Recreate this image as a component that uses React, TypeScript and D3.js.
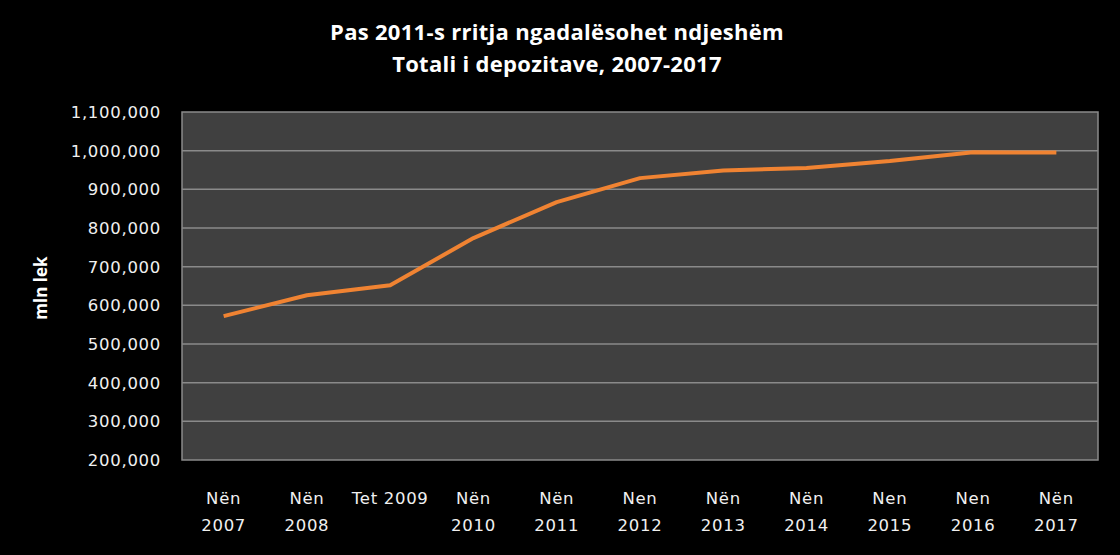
import { useEffect, useRef } from 'react';
import * as d3 from 'd3';

const categories = [
  'Nën 2007', 'Nën 2008', 'Tet 2009', 'Nën 2010', 'Nën 2011', 'Nen 2012',
  'Nën 2013', 'Nën 2014', 'Nen 2015', 'Nen 2016', 'Nën 2017',
];
// two-line tick labels as printed under the axis
const tickLines = [
  ['Nën', '2007'], ['Nën', '2008'], ['Tet 2009'], ['Nën', '2010'], ['Nën', '2011'],
  ['Nen', '2012'], ['Nën', '2013'], ['Nën', '2014'], ['Nen', '2015'], ['Nen', '2016'], ['Nën', '2017'],
];
const deposits = [572000, 626000, 652000, 774000, 867000, 929000, 949000, 955000, 973000, 996000, 995000];
const yTicks = [200000, 300000, 400000, 500000, 600000, 700000, 800000, 900000, 1000000, 1100000];

const titleLines = ['Pas 2011-s rritja ngadalësohet ndjeshëm', 'Totali i depozitave, 2007-2017'];

export default function App() {
  const svgRef = useRef<SVGSVGElement>(null);

  useEffect(() => {
    if (!svgRef.current) {
      return;
    }
    const width = 1120;
    const height = 555;
    const left = 182;
    const right = 1098;
    const top = 112;
    const bottom = 460;

    const svg = d3.select(svgRef.current);
    svg.selectAll('*').remove();
    svg.attr('width', width).attr('height', height);

    svg.append('rect').attr('width', width).attr('height', height).attr('fill', '#000');

    const x = d3.scaleBand<string>().domain(categories).range([left, right]);
    const y = d3.scaleLinear().domain([200000, 1100000]).range([bottom, top]);

    svg
      .append('rect')
      .attr('x', left)
      .attr('y', top)
      .attr('width', right - left)
      .attr('height', bottom - top)
      .attr('fill', '#404040')
      .attr('stroke', '#8a8a8a')
      .attr('stroke-width', 1.5);

    svg
      .append('g')
      .selectAll('line')
      .data(yTicks.slice(1, -1))
      .enter()
      .append('line')
      .attr('x1', left)
      .attr('x2', right)
      .attr('y1', (d) => y(d))
      .attr('y2', (d) => y(d))
      .attr('stroke', '#8a8a8a')
      .attr('stroke-width', 1.5);

    const fmt = d3.format(',');
    svg
      .append('g')
      .selectAll('text')
      .data(yTicks)
      .enter()
      .append('text')
      .attr('x', 161)
      .attr('y', (d) => y(d))
      .attr('dy', '0.36em')
      .attr('text-anchor', 'end')
      .attr('fill', '#f0f0f0')
      .style('font-family', 'DejaVu Sans, sans-serif')
      .style('font-size', '16.5px')
      .style('letter-spacing', '0.7px')
      .text((d) => fmt(d));

    const xl = svg
      .append('g')
      .selectAll('text')
      .data(categories)
      .enter()
      .append('text')
      .attr('x', (d) => (x(d) ?? 0) + x.bandwidth() / 2)
      .attr('y', 504)
      .attr('text-anchor', 'middle')
      .attr('fill', '#f0f0f0')
      .style('font-family', 'DejaVu Sans, sans-serif')
      .style('font-size', '16.5px')
      .style('letter-spacing', '0.7px');
    xl.each(function (d, i) {
      const t = d3.select(this);
      tickLines[i].forEach((ln, j) => {
        t.append('tspan')
          .attr('x', (x(d) ?? 0) + x.bandwidth() / 2)
          .attr('dy', j === 0 ? 0 : 27)
          .text(ln);
      });
    });

    const line = d3
      .line<number>()
      .x((_d, i) => (x(categories[i]) ?? 0) + x.bandwidth() / 2)
      .y((d) => y(d));

    svg
      .append('path')
      .datum(deposits)
      .attr('d', line)
      .attr('fill', 'none')
      .attr('stroke', '#f08332')
      .attr('stroke-width', 4)
      .attr('stroke-linejoin', 'round');

    svg
      .append('g')
      .selectAll('text')
      .data(titleLines)
      .enter()
      .append('text')
      .attr('x', 557)
      .attr('y', (_d, i) => 40 + i * 32)
      .attr('text-anchor', 'middle')
      .attr('fill', '#fff')
      .style('font-family', 'Open Sans, sans-serif')
      .style('font-weight', 'bold')
      .style('font-size', '22px')
      .style('letter-spacing', '0.3px')
      .text((d) => d);

    svg
      .append('text')
      .attr('transform', `translate(47,${(top + bottom) / 2 + 2})rotate(-90)`)
      .attr('text-anchor', 'middle')
      .attr('fill', '#fff')
      .style('font-family', 'Open Sans, sans-serif')
      .style('font-weight', 'bold')
      .style('font-size', '17px')
      .text('mln lek');
  }, []);

  return <svg ref={svgRef} style={{ display: 'block', position: 'absolute', left: 0, top: 0 }} />;
}
